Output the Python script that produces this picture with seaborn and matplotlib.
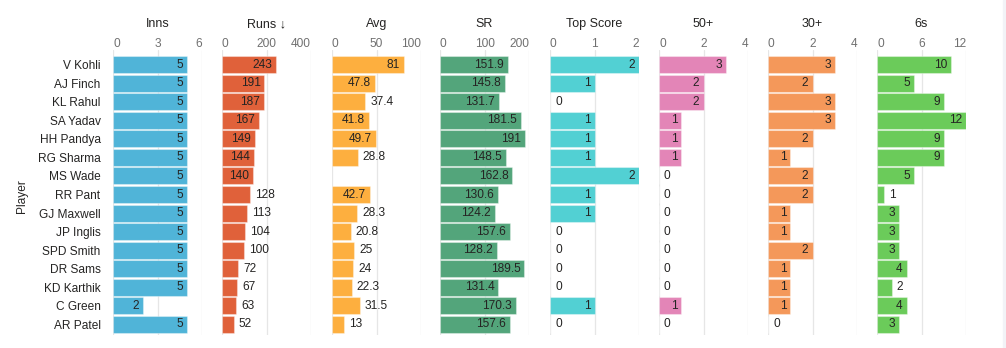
import numpy as np
import pandas as pd
import matplotlib
matplotlib.use("Agg")
import matplotlib.pyplot as plt
import seaborn as sns

players = ["V Kohli", "AJ Finch", "KL Rahul", "SA Yadav", "HH Pandya", "RG Sharma",
           "MS Wade", "RR Pant", "GJ Maxwell", "JP Inglis", "SPD Smith", "DR Sams",
           "KD Karthik", "C Green", "AR Patel"]
inns = [5, 5, 5, 5, 5, 5, 5, 5, 5, 5, 5, 5, 5, 2, 5]
runs = [243, 191, 187, 167, 149, 144, 140, 128, 113, 104, 100, 72, 67, 63, 52]
avg = [81, 47.8, 37.4, 41.8, 49.7, 28.8, np.nan, 42.7, 28.3, 20.8, 25, 24, 22.3, 31.5, 13]
sr = [151.9, 145.8, 131.7, 181.5, 191, 148.5, 162.8, 130.6, 124.2, 157.6, 128.2, 189.5,
      131.4, 170.3, 157.6]
top_score = [2, 1, 0, 1, 1, 1, 2, 1, 1, 0, 0, 0, 0, 1, 0]
fifties = [3, 2, 2, 1, 1, 1, 0, 0, 0, 0, 0, 0, 0, 1, 0]
thirties = [3, 2, 3, 3, 2, 1, 2, 2, 1, 1, 2, 1, 1, 1, 0]
sixes = [10, 5, 9, 12, 9, 9, 5, 1, 3, 3, 3, 4, 2, 4, 3]

titles = ["Inns", "Runs \u2193", "Avg", "SR", "Top Score", "50+", "30+", "6s"]
series = [inns, runs, avg, sr, top_score, fifties, thirties, sixes]
ticks = [[0, 3, 6], [0, 200, 400], [0, 50, 100], [0, 100, 200], [0, 1, 2],
         [0, 2, 4], [0, 2, 4], [0, 6, 12]]
colors = ["#50B4D8", "#E0613A", "#FDAF3F", "#53A57B", "#52D0D3", "#E385B7",
          "#F4985A", "#6BCB5A"]

sns.set_theme(style="white")
plt.rcParams["font.family"] = ["Liberation Sans", "DejaVu Sans"]
FS = 8.6
TXT = "#252423"
TICK = "#707070"

W, H = 1006, 348
fig = plt.figure(figsize=(W / 100, H / 100), dpi=100)
fig.patch.set_facecolor("white")
# light strip at right edge
fig.add_artist(plt.Rectangle((1003 / W, 0), 3 / W, 1, transform=fig.transFigure,
                             color="#F2F3F7", zorder=0))

lefts = [113, 222, 332, 440, 550, 659, 768, 877]
pw = 89
top_px, bot_px = 50, 335
period = 18.57
ylim_top = -(64.5 - top_px) / period
ylim_bot = 14 + (bot_px - 324.5) / period

renderer = fig.canvas.get_renderer()
for k, (title, vals, tk, col, lx) in enumerate(zip(titles, series, ticks, colors, lefts)):
    ax = fig.add_axes([lx / W, 1 - bot_px / H, pw / W, (bot_px - top_px) / H])
    df = pd.DataFrame({"Player": players, "value": vals})
    sns.barplot(data=df, x="value", y="Player", order=players, orient="h", color=col,
                saturation=1, width=0.915, ax=ax, edgecolor=(1, 1, 1, 0.35),
                linewidth=0.8, zorder=2)
    ax.set_xlim(0, tk[-1])
    ax.set_ylim(ylim_bot, ylim_top)
    for s in ax.spines.values():
        s.set_visible(False)
    ax.set_xticks(tk)
    ax.xaxis.tick_top()
    ax.tick_params(axis="x", length=0, pad=0, labelsize=FS, labelcolor=TICK)
    ax.set_xticklabels([str(t) for t in tk])
    tl = ax.get_xticklabels()
    tl[0].set_ha("left")
    tl[-1].set_ha("right")
    for t in tk:
        ax.axvline(t, color="#E6E6E6", lw=0.9, zorder=0)
    ax.set_xlabel("")
    ax.set_title(title, fontsize=FS + 0.4, color=TXT, pad=16.5)
    if k == 0:
        ax.set_ylabel("")
        ax.tick_params(axis="y", length=0, pad=9, labelsize=FS, labelcolor=TXT)
    else:
        ax.set_ylabel("")
        ax.set_yticklabels([])
        ax.tick_params(axis="y", length=0)
    for i, v in enumerate(vals):
        if v is None or (isinstance(v, float) and np.isnan(v)):
            continue
        label = f"{v:g}"
        t = ax.annotate(label, xy=(v, i), xytext=(-4, 0), textcoords="offset pixels",
                        ha="right", va="center", fontsize=FS, color=TXT, zorder=3)
        tw = t.get_window_extent(renderer).width
        bar_px = ax.transData.transform((v, i))[0] - ax.transData.transform((0, i))[0]
        if bar_px <= tw + 10.6:
            t.remove()
            ax.annotate(label, xy=(v, i), xytext=(5, 0), textcoords="offset pixels",
                        ha="left", va="center", fontsize=FS, color=TXT, zorder=3)

fig.text(22 / W, 1 - 196 / H, "Player", rotation=90, ha="center", va="center",
         fontsize=FS, color=TXT)

fig.savefig("out.png", dpi=100)
